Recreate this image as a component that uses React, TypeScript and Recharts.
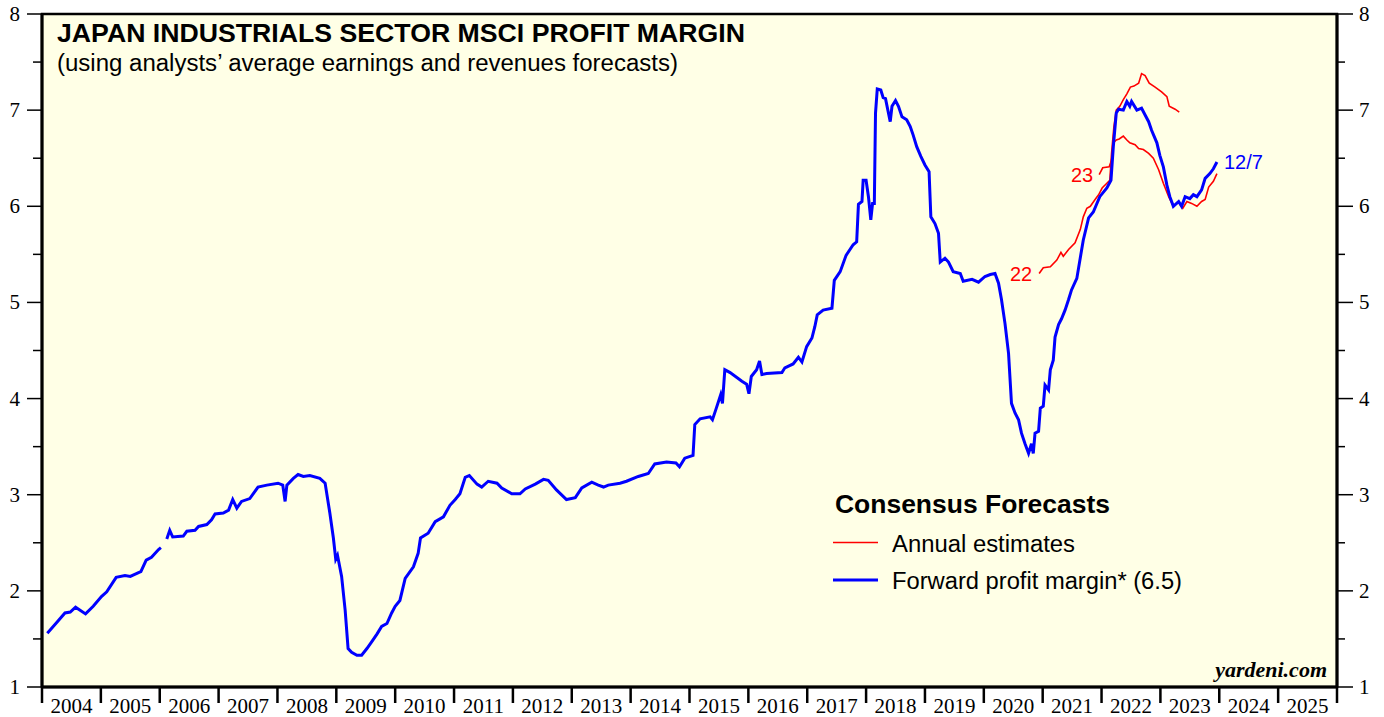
import { LineChart, Line, XAxis, YAxis, CartesianGrid, ReferenceArea, ReferenceDot } from 'recharts';

// forward profit margin (weekly-ish samples), x = decimal year
const blueT = [
  2004.09, 2004.25, 2004.39, 2004.48, 2004.57, 2004.74, 2004.87, 2005.01, 2005.1, 2005.26,
  2005.41, 2005.5, 2005.64, 2005.68, 2005.77, 2005.86, 2005.98, 2006.02, 2006.07, 2006.12,
  2006.17, 2006.22, 2006.4, 2006.46, 2006.6, 2006.66, 2006.8, 2006.88, 2006.94, 2007.08,
  2007.17, 2007.24, 2007.31, 2007.39, 2007.53, 2007.67, 2007.82, 2008.01, 2008.09, 2008.13,
  2008.16, 2008.27, 2008.35, 2008.44, 2008.55, 2008.72, 2008.81, 2008.89, 2008.95, 2008.99,
  2009.02, 2009.09, 2009.15, 2009.2, 2009.26, 2009.35, 2009.43, 2009.52, 2009.6, 2009.69,
  2009.77, 2009.86, 2009.94, 2010.0, 2010.08, 2010.17, 2010.31, 2010.39, 2010.43, 2010.56,
  2010.68, 2010.82, 2010.93, 2011.02, 2011.1, 2011.19, 2011.26, 2011.39, 2011.47, 2011.58,
  2011.73, 2011.81, 2011.98, 2012.12, 2012.21, 2012.38, 2012.52, 2012.6, 2012.74, 2012.91,
  2013.06, 2013.17, 2013.34, 2013.45, 2013.54, 2013.62, 2013.82, 2013.93, 2014.13, 2014.3,
  2014.41, 2014.61, 2014.77, 2014.83, 2014.92, 2015.06, 2015.09, 2015.18, 2015.35, 2015.39,
  2015.45, 2015.53, 2015.56, 2015.6, 2015.69, 2015.89, 2015.97, 2016.01, 2016.05, 2016.14,
  2016.19, 2016.23, 2016.31, 2016.57, 2016.62, 2016.76, 2016.85, 2016.91, 2016.99, 2017.08,
  2017.13, 2017.17, 2017.27, 2017.42, 2017.46, 2017.56, 2017.66, 2017.78, 2017.84, 2017.87,
  2017.93, 2017.95, 2018.0, 2018.04, 2018.08, 2018.11, 2018.14, 2018.16, 2018.19, 2018.25,
  2018.29, 2018.33, 2018.41, 2018.44, 2018.5, 2018.55, 2018.61, 2018.69, 2018.75, 2018.8,
  2018.86, 2018.93, 2019.0, 2019.07, 2019.1, 2019.17, 2019.23, 2019.26, 2019.34, 2019.4,
  2019.48, 2019.6, 2019.65, 2019.8, 2019.91, 2020.02, 2020.11, 2020.19, 2020.25, 2020.3,
  2020.36, 2020.42, 2020.47, 2020.53, 2020.59, 2020.64, 2020.7, 2020.76, 2020.81, 2020.84,
  2020.87, 2020.93, 2020.96, 2021.01, 2021.04, 2021.1, 2021.13, 2021.18, 2021.21, 2021.27,
  2021.32, 2021.38, 2021.44, 2021.49, 2021.58, 2021.69, 2021.78, 2021.86, 2021.97, 2022.09,
  2022.16, 2022.2, 2022.25, 2022.29, 2022.37, 2022.43, 2022.48, 2022.51, 2022.6, 2022.68,
  2022.74, 2022.8, 2022.85, 2022.94, 2022.99, 2023.05, 2023.11, 2023.16, 2023.22, 2023.31,
  2023.36, 2023.42, 2023.5, 2023.56, 2023.62, 2023.7, 2023.76, 2023.84, 2023.9, 2023.96,
];
const blueV = [
  1.56, 1.67, 1.77, 1.78, 1.83, 1.76, 1.84, 1.94, 1.99, 2.14,
  2.16, 2.15, 2.19, 2.2, 2.32, 2.35, 2.43, 2.45, null, 2.54,
  2.63, 2.56, 2.57, 2.62, 2.63, 2.67, 2.69, 2.74, 2.8, 2.81,
  2.84, 2.95, 2.86, 2.93, 2.96, 3.08, 3.1, 3.12, 3.1, 2.93,
  3.1, 3.17, 3.21, 3.19, 3.2, 3.17, 3.12, 2.81, 2.55, 2.33,
  2.37, 2.15, 1.8, 1.4, 1.36, 1.33, 1.33, 1.4, 1.47, 1.55,
  1.63, 1.66, 1.77, 1.84, 1.9, 2.13, 2.25, 2.39, 2.55, 2.6,
  2.72, 2.77, 2.89, 2.95, 3.01, 3.18, 3.2, 3.11, 3.08, 3.14,
  3.12, 3.07, 3.01, 3.01, 3.06, 3.11, 3.16, 3.15, 3.05, 2.95,
  2.97, 3.07, 3.13, 3.1, 3.08, 3.1, 3.12, 3.14, 3.19, 3.22,
  3.32, 3.34, 3.33, 3.29, 3.38, 3.41, 3.73, 3.79, 3.81, 3.78,
  3.89, 4.04, 3.95, 4.3, 4.27, 4.18, 4.15, 4.05, 4.23, 4.3,
  4.39, 4.25, 4.26, 4.27, 4.32, 4.36, 4.43, 4.38, 4.54, 4.63,
  4.75, 4.87, 4.92, 4.94, 5.23, 5.32, 5.49, 5.6, 5.63, 6.02,
  6.05, 6.27, 6.27, 6.1, 5.86, 6.03, 6.03, 6.97, 7.22, 7.21,
  7.13, 7.12, 6.88, 7.04, 7.1, 7.04, 6.93, 6.9, 6.83, 6.74,
  6.62, 6.52, 6.43, 6.36, 5.89, 5.82, 5.72, 5.42, 5.46, 5.42,
  5.32, 5.3, 5.22, 5.24, 5.21, 5.27, 5.29, 5.3, 5.2, 5.03,
  4.78, 4.47, 3.95, 3.85, 3.78, 3.64, 3.53, 3.43, 3.53, 3.43,
  3.64, 3.66, 3.9, 3.92, 4.14, 4.09, 4.3, 4.4, 4.64, 4.77,
  4.83, 4.92, 5.03, 5.13, 5.25, 5.65, 5.88, 5.94, 6.1, 6.19,
  6.27, 6.62, 6.97, 7.01, 7.0, 7.09, 7.04, 7.09, 7.0, 7.02,
  6.95, 6.88, 6.79, 6.66, 6.53, 6.41, 6.22, 6.1, 6.0, 6.05,
  6.0, 6.1, 6.08, 6.12, 6.1, 6.17, 6.29, 6.34, 6.39, 6.46,
];

// annual estimate for 2022
const est22T = [
  2020.94, 2021.01, 2021.13, 2021.24, 2021.31, 2021.35, 2021.44, 2021.55, 2021.64, 2021.69,
  2021.75, 2021.81, 2021.89, 2021.95, 2022.01, 2022.09, 2022.14, 2022.17, 2022.21, 2022.25,
  2022.31, 2022.37, 2022.43, 2022.49, 2022.55, 2022.63, 2022.68, 2022.74, 2022.81, 2022.91,
  2023.02, 2023.11, 2023.15, 2023.25, 2023.32,
];
const est22V = [
  5.3, 5.36, 5.37, 5.44, 5.52, 5.48, 5.55, 5.62, 5.76, 5.89,
  5.98, 6.0, 6.07, 6.12, 6.19, 6.24, 6.27, 6.55, 6.83, 7.0,
  7.04, 7.11, 7.17, 7.24, 7.25, 7.28, 7.38, 7.36, 7.28, 7.24,
  7.19, 7.14, 7.04, 7.01, 6.98,
];

// annual estimate for 2023
const est23T = [
  2021.96, 2022.02, 2022.13, 2022.17, 2022.2, 2022.25, 2022.3, 2022.37, 2022.43, 2022.48,
  2022.57, 2022.63, 2022.71, 2022.8, 2022.88, 2022.97, 2023.05, 2023.14, 2023.22, 2023.31,
  2023.38, 2023.45, 2023.53, 2023.62, 2023.7, 2023.76, 2023.82, 2023.9, 2023.96,
];
const est23V = [
  6.33, 6.4, 6.41, 6.48, 6.66, 6.69, 6.7, 6.73, 6.69, 6.66,
  6.64, 6.6, 6.59, 6.55, 6.5, 6.38, 6.24, 6.1, 6.0, 6.04,
  5.98, 6.05, 6.03, 6.0, 6.05, 6.07, 6.2, 6.26, 6.34,
];

const yearTicks = [
  2004, 2005, 2006, 2007, 2008, 2009, 2010, 2011, 2012, 2013, 2014, 2015,
  2016, 2017, 2018, 2019, 2020, 2021, 2022, 2023, 2024, 2025, 2026,
];
const valueTicks = [1, 1.5, 2, 2.5, 3, 3.5, 4, 4.5, 5, 5.5, 6, 6.5, 7, 7.5, 8];

const toRows = (t: number[], v: (number | null)[]) => t.map((x, i) => ({ t: x, v: v[i] }));
const blueData = toRows(blueT, blueV);
const est22Data = toRows(est22T, est22V);
const est23Data = toRows(est23T, est23V);

const CHART_W = 1384;
const CHART_H = 717;
const LEFT_W = 42;
const RIGHT_W = 47;
const HALF_YEAR = (CHART_W - LEFT_W - RIGHT_W) / (yearTicks.length - 1) / 2;

const SANS = '"Liberation Sans", Arial, sans-serif';
const SERIF = '"Liberation Serif", "Times New Roman", serif';
const BLUE = '#0000FF';
const RED = '#FF0000';

function LeftTick(props: any) {
  const { x, y, payload } = props;
  const major = Number.isInteger(payload.value);
  return (
    <g>
      <line x1={x} x2={x - (major ? 15 : 9)} y1={y} y2={y} stroke="#000" strokeWidth={1.5} />
      {major && (
        <text x={x - 22} y={y} dy={7} textAnchor="end" fontFamily={SERIF} fontSize={21} fill="#000">
          {payload.value}
        </text>
      )}
    </g>
  );
}

function RightTick(props: any) {
  const { x, y, payload } = props;
  const major = Number.isInteger(payload.value);
  return (
    <g>
      <line x1={x} x2={x + (major ? 16 : 8)} y1={y} y2={y} stroke="#000" strokeWidth={1.5} />
      {major && (
        <text x={x + 22} y={y} dy={7} textAnchor="start" fontFamily={SERIF} fontSize={21} fill="#000">
          {payload.value}
        </text>
      )}
    </g>
  );
}

// tick mark at each year boundary, label centred in the year
function YearTick(props: any) {
  const { x, y, payload } = props;
  const last = payload.value === yearTicks[yearTicks.length - 1];
  return (
    <g>
      <line x1={x} x2={x} y1={y} y2={y + 16} stroke="#000" strokeWidth={2.5} />
      {!last && (
        <text x={x + HALF_YEAR} y={y} dy={26} textAnchor="middle" fontFamily={SERIF} fontSize={21} fill="#000">
          {payload.value}
        </text>
      )}
    </g>
  );
}

export default function App() {
  return (
    <div style={{ position: 'absolute', left: 0, top: 0, width: CHART_W, height: CHART_H, background: '#fff' }}>
      <LineChart width={CHART_W} height={CHART_H} margin={{ top: 14, right: 0, bottom: 0, left: 0 }}>
        <CartesianGrid horizontal={false} vertical={false} fill="#FFFFE6" />
        <XAxis
          dataKey="t"
          type="number"
          domain={[2004, 2026]}
          ticks={yearTicks}
          allowDataOverflow
          height={30}
          tickSize={0}
          tickMargin={0}
          tickLine={false}
          axisLine={{ stroke: '#000', strokeWidth: 3 }}
          tick={YearTick}
          interval={0}
        />
        <YAxis
          yAxisId="l"
          type="number"
          domain={[1, 8]}
          ticks={valueTicks}
          allowDataOverflow
          width={LEFT_W}
          tickSize={0}
          tickMargin={0}
          tickLine={false}
          axisLine={{ stroke: '#000', strokeWidth: 3 }}
          tick={LeftTick}
          interval={0}
        />
        <YAxis
          yAxisId="r"
          orientation="right"
          type="number"
          domain={[1, 8]}
          ticks={valueTicks}
          allowDataOverflow
          width={RIGHT_W}
          tickSize={0}
          tickMargin={0}
          tickLine={false}
          axisLine={{ stroke: '#000', strokeWidth: 3 }}
          tick={RightTick}
          interval={0}
        />
        <ReferenceArea yAxisId="l" x1={2004} x2={2026} y1={1} y2={8} fill="none" stroke="#000" strokeWidth={2.5} />
        <Line yAxisId="l" data={est22Data} dataKey="v" type="linear" stroke={RED} strokeWidth={1.6} dot={false} isAnimationActive={false} />
        <Line yAxisId="l" data={est23Data} dataKey="v" type="linear" stroke={RED} strokeWidth={1.6} dot={false} isAnimationActive={false} />
        <Line yAxisId="l" data={blueData} dataKey="v" type="linear" stroke={BLUE} strokeWidth={3} dot={false} isAnimationActive={false} />
        <ReferenceDot yAxisId="l" x={est22T[0]} y={est22V[0]} r={0} stroke="none"
          label={{ value: '22', position: 'left', offset: 7, fill: RED, fontSize: 20, fontFamily: SANS }} />
        <ReferenceDot yAxisId="l" x={est23T[0]} y={est23V[0]} r={0} stroke="none"
          label={{ value: '23', position: 'left', offset: 6, fill: RED, fontSize: 20, fontFamily: SANS }} />
        <ReferenceDot yAxisId="l" x={blueT[blueT.length - 1]} y={blueV[blueV.length - 1] as number} r={0} stroke="none"
          label={{ value: '12/7', position: 'right', offset: 7, fill: BLUE, fontSize: 20, fontFamily: SANS }} />
      </LineChart>
      <svg width={CHART_W} height={CHART_H} style={{ position: 'absolute', left: 0, top: 0, pointerEvents: 'none' }}>
        <text x={57} y={42} fontFamily={SANS} fontWeight="bold" fontSize={25} textLength={688} lengthAdjust="spacingAndGlyphs">
          JAPAN INDUSTRIALS SECTOR MSCI PROFIT MARGIN
        </text>
        <text x={57} y={71} fontFamily={SANS} fontSize={23} textLength={621} lengthAdjust="spacingAndGlyphs">
          (using analysts’ average earnings and revenues forecasts)
        </text>
        <text x={835} y={513} fontFamily={SANS} fontWeight="bold" fontSize={25} textLength={275} lengthAdjust="spacingAndGlyphs">
          Consensus Forecasts
        </text>
        <line x1={833} x2={878} y1={542.5} y2={542.5} stroke={RED} strokeWidth={1.6} />
        <text x={892} y={552} fontFamily={SANS} fontSize={23} textLength={183} lengthAdjust="spacingAndGlyphs">
          Annual estimates
        </text>
        <line x1={833} x2={878} y1={580} y2={580} stroke={BLUE} strokeWidth={3} />
        <text x={892} y={589} fontFamily={SANS} fontSize={23} textLength={290} lengthAdjust="spacingAndGlyphs">
          Forward profit margin* (6.5)
        </text>
        <text x={1327} y={677} textAnchor="end" fontFamily={SERIF} fontWeight="bold" fontStyle="italic" fontSize={22}>
          yardeni.com
        </text>
      </svg>
    </div>
  );
}
